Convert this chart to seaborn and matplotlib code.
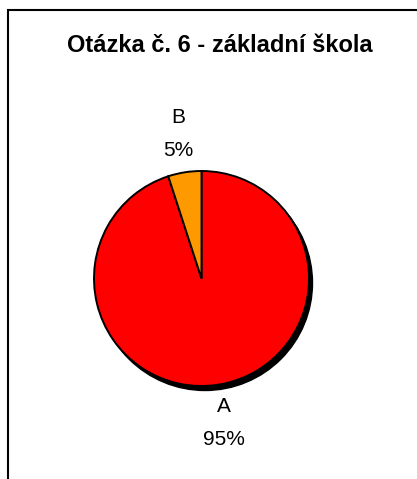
import matplotlib
matplotlib.use("Agg")
import matplotlib.pyplot as plt
from matplotlib.lines import Line2D
from matplotlib.patches import Circle
from matplotlib.transforms import offset_copy
import seaborn as sns

# Survey answers for question 6 (primary school)
categories = ["A", "B"]
shares = [95, 5]
colors = ["#FF0000", "#FF9900"]
title = "Otázka č. 6 - základní škola"

sns.set_theme(style="white")
plt.rcParams["font.family"] = ["Liberation Sans", "DejaVu Sans"]

W, H = 417, 479
fig = plt.figure(figsize=(W / 100, H / 100), dpi=100)
fig.patch.set_facecolor("white")

# square axes centred on the pie; radius 1 maps to ~107 px
cx, cy, side, lim = 201.5, 278.5, 300.0, 300.0 / (2 * 107.5)
ax = fig.add_axes([(cx - side / 2) / W, 1 - (cy + side / 2) / H, side / W, side / H])

labels = [f"{c}\n{v}%" for c, v in zip(categories, shares)]
wedges, texts = ax.pie(
    shares,
    labels=labels,
    colors=colors,
    startangle=90,
    counterclock=False,
    labeldistance=1.36,
    radius=1.0,
    wedgeprops=dict(edgecolor="black", linewidth=1.4, zorder=2),
    textprops=dict(fontsize=15, color="black"),
    frame=True,
)
ax.set_xlim(-lim, lim)
ax.set_ylim(-lim, lim)
ax.set_aspect("equal")
ax.axis("off")

# drop shadow behind the pie, offset down and to the right
shadow_tr = offset_copy(ax.transData, fig=fig, x=3.5, y=-4.5, units="dots")
ax.add_patch(Circle((0, 0), 1.0, facecolor="black", edgecolor="black",
                    linewidth=1.0, transform=shadow_tr, zorder=1))

for t in texts:
    t.set_horizontalalignment("center")
    t.set_verticalalignment("center")
    t.set_linespacing(1.9)

fig.text(220 / W, 1 - 45 / H, title, ha="center", va="center",
         fontsize=17, fontweight="bold", color="black")

# chart frame (left and top edges)
x0 = 7.5 / W
y0 = 1 - 10.3 / H
fig.add_artist(Line2D([x0, x0, 1.0], [0.0, y0, y0], transform=fig.transFigure,
                      color="black", linewidth=1.5, solid_joinstyle="miter"))

fig.savefig("out.png", dpi=100, facecolor="white")
